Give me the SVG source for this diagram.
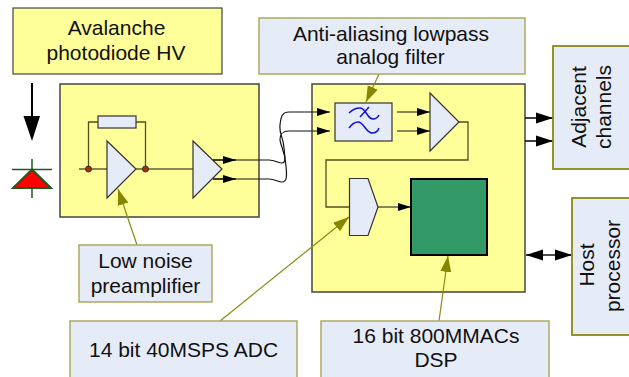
<svg xmlns="http://www.w3.org/2000/svg" width="629" height="377" viewBox="0 0 629 377">
<style>
text{font-family:"Liberation Sans",Arial,sans-serif;font-size:21px;fill:#111;text-anchor:middle}
.lbl{fill:#e6ecf7;stroke:#aaaa60;stroke-width:1.5}
.lbd{fill:#e6ecf7;stroke:#8a8a10;stroke-width:1.8}
.ylw{fill:#ffff99;stroke:#444;stroke-width:1.2}
.blk{fill:#ffff99;stroke:#444;stroke-width:1.5}
.part{fill:#e6ecf7;stroke:#333;stroke-width:1.2}
.w{fill:none;stroke:#111;stroke-width:1.2}
.g{fill:none;stroke:#505020;stroke-width:1.3}
.t{fill:none;stroke:#111;stroke-width:1.6}
.c{fill:none;stroke:#8a8a10;stroke-width:1.2}
</style>
<defs>
<marker id="a" markerUnits="userSpaceOnUse" markerWidth="13" markerHeight="10" refX="13" refY="5" orient="auto"><path d="M0 1L13 5L0 9Z" fill="#000"/></marker>
<marker id="b" markerUnits="userSpaceOnUse" markerWidth="17" markerHeight="12" refX="17" refY="6" orient="auto-start-reverse"><path d="M0 0.500L17 6L0 11.500Z" fill="#000"/></marker>
<marker id="o" markerUnits="userSpaceOnUse" markerWidth="16" markerHeight="12" refX="16" refY="6" orient="auto"><path d="M0 0.500L16 6L0 11.500Z" fill="#858500"/></marker>
</defs>
<rect width="629" height="377" fill="#fff"/>
<g id="avalanche"><rect class="ylw" x="13" y="8" width="209" height="66"/><text x="116.500" y="35">Avalanche</text><text x="116" y="60">photodiode HV</text></g>
<g id="light-arrow"><path d="M32 83V125" stroke="#000" stroke-width="2"/><path d="M23.500 116H40L32 141Z" fill="#000"/></g>
<g id="photodiode"><path d="M32 159V198M12 169.500H52" stroke="#1f5a1f" stroke-width="1.500" fill="none"/><path d="M32 169.500L13 188H51Z" fill="#f00" stroke="#1f5a1f" stroke-width="2"/></g>
<g id="frontend"><rect class="blk" x="60" y="84" width="199" height="133"/></g>
<g id="dsp-board"><rect class="blk" x="312" y="84" width="213" height="208"/></g>
<g id="connectors">
<path class="w" d="M79 169H107M136 169H193"/>
<path class="g" d="M88.500 169V122H98M136 122H145.500V169"/>
<path class="w" d="M213 160H269C275 160 278 163 282 163C286 163 285 158 284 148C283 135 279 135 280 125C281 115 283 112 289 112H330" marker-end="url(#a)"/>
<path class="w" d="M213 179H269C275 179 278 182 282 182C287 182 287 176 286 166C285 150 281 148 280 140C280 133 283 131 289 131H330" marker-end="url(#a)"/>
<path class="w" d="M397 112H430" marker-end="url(#a)"/>
<path class="w" d="M397 131H430" marker-end="url(#a)"/>
<path class="g" d="M459 122H468V160H326V207H349"/>
<path class="w" d="M378 207H411" marker-end="url(#a)"/>
<path class="t" d="M525 118H553" marker-end="url(#b)"/>
<path class="t" d="M525 141H553" marker-end="url(#b)"/>
<path class="t" d="M526 255H572" marker-start="url(#b)" marker-end="url(#b)"/>
<path class="c" d="M137 245L118 189" marker-end="url(#o)"/>
<path class="c" d="M220 321L349 217" marker-end="url(#o)"/>
<path class="c" d="M439 321L448 256" marker-end="url(#o)"/>
<path class="c" d="M379 74L366 102" marker-end="url(#o)"/>
</g>
<g id="feedback-resistor"><rect class="part" x="98" y="116" width="38" height="12"/></g>
<g id="preamp"><path class="part" d="M107 141V198L136 169Z"/><circle cx="88.500" cy="169" r="3" fill="#a63000" stroke="#333"/><circle cx="145.500" cy="169" r="3" fill="#a63000" stroke="#333"/></g>
<g id="driver"><path class="part" d="M193 141V198L222 169Z"/><path class="w" d="M213 160H236" marker-end="url(#a)"/><path class="w" d="M213 179H236" marker-end="url(#a)"/></g>
<g id="filter"><rect class="part" x="335" y="103" width="57" height="38" stroke-width="1.500"/><path d="M349 113C353 109 357 108 360 108C366 108 367 119 373 119C376 119 378 117 379 115M349 128C352 124 355 122 358 122C364 122 366 133 372 133C375 133 378 131 379 128M369 107L360 117" fill="none" stroke="#1010e0" stroke-width="1.500"/></g>
<g id="amp"><path class="part" d="M430 93V151L459 122Z"/></g>
<g id="adc"><path class="part" d="M349.500 178.500H368L378 207L368 235.500H349.500Z"/></g>
<g id="dsp"><rect x="411" y="179" width="76" height="76" fill="#339966" stroke="#000" stroke-width="2"/></g>
<g id="anti-aliasing"><rect class="lbl" x="259" y="18" width="266" height="56"/><text x="391" y="41">Anti-aliasing lowpass</text><text x="390.500" y="64">analog filter</text></g>
<g id="adjacent"><rect class="lbd" x="553" y="46" width="80" height="123"/><text transform="translate(586 107) rotate(-90)">Adjacent</text><text transform="translate(611 107) rotate(-90)">channels</text></g>
<g id="host"><rect class="lbd" x="572" y="198" width="60" height="137"/><text transform="translate(594 265) rotate(-90)">Host</text><text transform="translate(620 266) rotate(-90)">processor</text></g>
<g id="low-noise"><rect class="lbl" x="79" y="245" width="133" height="57"/><text x="145.500" y="268">Low noise</text><text x="145.500" y="293">preamplifier</text></g>
<g id="adc-label"><rect class="lbl" x="70" y="321" width="227" height="60"/><text x="183.500" y="357">14 bit 40MSPS ADC</text></g>
<g id="dsp-label"><rect class="lbl" x="321" y="321" width="228" height="60"/><text x="436" y="343">16 bit 800MMACs</text><text x="436" y="367">DSP</text></g>
</svg>
